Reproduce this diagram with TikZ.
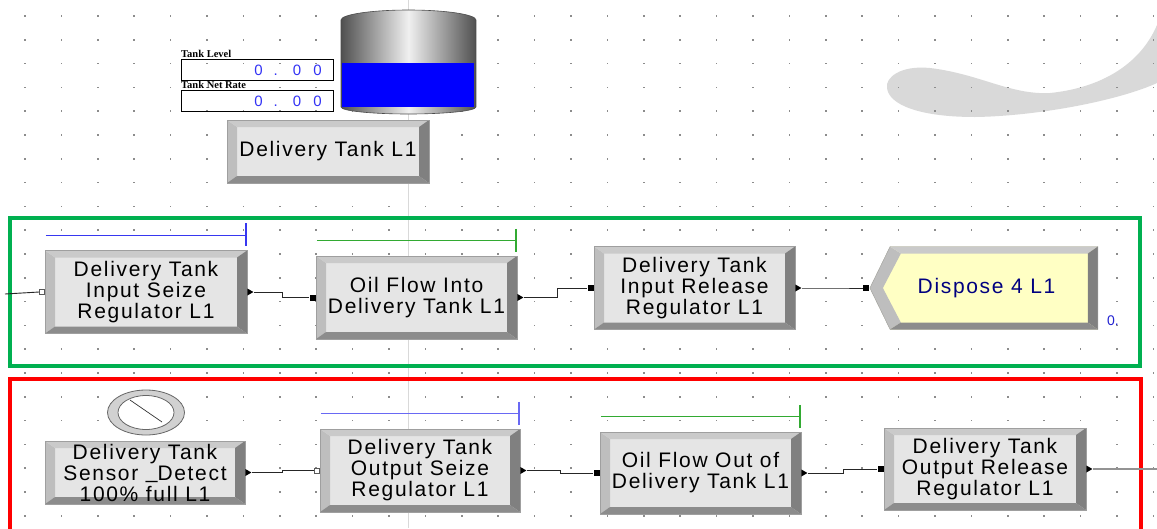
\documentclass[tikz,border=0pt]{standalone}
\usepackage{fontspec}
\usetikzlibrary{shapes.geometric,shapes.symbols}
\newfontfamily\modfont[LetterSpace=8]{Liberation Sans}
\newfontfamily\plainsans{Liberation Sans}
\newfontfamily\labelfont{Liberation Serif}

\definecolor{face}{RGB}{229,229,229}
\definecolor{bevlight}{RGB}{190,190,190}
\definecolor{bevtop}{RGB}{202,202,202}
\definecolor{bevdark}{RGB}{128,128,128}
\definecolor{bevbot}{RGB}{140,140,140}
\definecolor{disposefill}{RGB}{255,255,196}
\definecolor{navytext}{RGB}{0,0,128}
\definecolor{digitblue}{RGB}{50,50,245}
\definecolor{framegreen}{RGB}{0,176,80}
\definecolor{barblue}{RGB}{55,55,240}
\definecolor{bargreen}{RGB}{50,170,50}
\definecolor{griddot}{RGB}{140,140,140}
\definecolor{logo}{RGB}{217,217,217}
\definecolor{tankdark}{RGB}{80,80,80}
\definecolor{tanklight}{RGB}{240,240,240}

% bevelled edges of a module box
\newcommand\modbevels{%
  \coordinate (pp-nw) at (path picture bounding box.north west);
  \coordinate (pp-ne) at (path picture bounding box.north east);
  \coordinate (pp-sw) at (path picture bounding box.south west);
  \coordinate (pp-se) at (path picture bounding box.south east);
  \fill[bevlight] (pp-sw) -- (pp-nw) -- ([shift={(10pt,-7pt)}]pp-nw) -- ([shift={(10pt,7pt)}]pp-sw) -- cycle;
  \fill[bevtop] (pp-nw) -- (pp-ne) -- ([shift={(-10pt,-7pt)}]pp-ne) -- ([shift={(10pt,-7pt)}]pp-nw) -- cycle;
  \fill[bevdark] (pp-ne) -- (pp-se) -- ([shift={(-10pt,7pt)}]pp-se) -- ([shift={(-10pt,-7pt)}]pp-ne) -- cycle;
  \fill[bevbot] (pp-sw) -- (pp-se) -- ([shift={(-10pt,7pt)}]pp-se) -- ([shift={(10pt,7pt)}]pp-sw) -- cycle;
}
% same for the pointed dispose block
\newcommand\dispbevels{%
  \coordinate (pp-nw) at (path picture bounding box.north west);
  \coordinate (pp-ne) at (path picture bounding box.north east);
  \coordinate (pp-sw) at (path picture bounding box.south west);
  \coordinate (pp-se) at (path picture bounding box.south east);
  \coordinate (pp-w) at (path picture bounding box.west);
  \fill[bevlight] (pp-w) -- ([shift={(20pt,0pt)}]pp-nw) -- ([shift={(31pt,-7pt)}]pp-nw) -- ([shift={(13pt,0pt)}]pp-w)
    -- ([shift={(31pt,7pt)}]pp-sw) -- ([shift={(20pt,0pt)}]pp-sw) -- cycle;
  \fill[bevtop] ([shift={(20pt,0pt)}]pp-nw) -- (pp-ne) -- ([shift={(-10pt,-7pt)}]pp-ne) -- ([shift={(31pt,-7pt)}]pp-nw) -- cycle;
  \fill[bevdark] (pp-ne) -- (pp-se) -- ([shift={(-10pt,7pt)}]pp-se) -- ([shift={(-10pt,-7pt)}]pp-ne) -- cycle;
  \fill[bevbot] ([shift={(20pt,0pt)}]pp-sw) -- (pp-se) -- ([shift={(-10pt,7pt)}]pp-se) -- ([shift={(31pt,7pt)}]pp-sw) -- cycle;
}
\newcommand\modsize{\modfont\fontsize{21}{21}\selectfont}

\tikzset{
    module/.style ={rectangle, draw=gray!75, fill=face, minimum width=202pt, minimum height=83pt,
        inner sep=0pt, align=center, font=\modsize, path picture={\modbevels}},
    dispose/.style ={signal, signal to=west, signal pointer angle=128, draw=gray!75, fill=disposefill,
        minimum width=228pt, minimum height=83pt, inner sep=0pt, font=\modsize, text=navytext,
        path picture={\dispbevels}},
    inmark/.style ={rectangle, fill=black, minimum size=6pt, inner sep=0pt, anchor=east},
    inopen/.style ={inmark, fill=white, draw=gray!70!black, line width=0.7pt, minimum size=5pt},
    outmark/.style ={isosceles triangle, isosceles triangle stretches, fill=black, minimum width=7pt,
        minimum height=6pt, inner sep=0pt, anchor=west},
    flow/.style ={line width=0.9pt, black!85},
    readout/.style ={draw=black, line width=1.2pt, minimum width=152pt, minimum height=21pt, inner sep=0pt,
        text width=128pt, align=right, text=digitblue, font=\plainsans\fontsize{15}{16}\selectfont},
    readlabel/.style ={inner sep=0pt, font=\labelfont\bfseries\fontsize{10.5}{12}\selectfont},
    frame/.style ={line width=4pt}}

\begin{document}
\begin{tikzpicture}[x=1pt, y=-1pt]
    \useasboundingbox (0,0) rectangle (1157,528);
    \clip (0,0) rectangle (1157,528);
    \fill[white] (0,0) rectangle (1157,528);
    % logo in the corner
    \fill[logo] (1157,25) .. controls (1140,65) and (1100,88) .. (1050,93)
        .. controls (1010,95) and (980,74) .. (930,68)
        .. controls (900,65) and (885,78) .. (887,88)
        .. controls (889,105) and (920,117) .. (975,117)
        .. controls (1040,116) and (1120,100) .. (1157,83) -- cycle;
    % snap grid
    \foreach \gx in {25,61.4,...,1157}
        \foreach \gy in {16,39.8,...,528}
            \fill[griddot] (\gx-0.8,\gy-0.8) rectangle ++(1.6,1.6);
    \draw[black!15, line width=1pt] (408,0) -- (408,528);
    % areas
    \draw[frame, framegreen] (10,218) rectangle (1140,366);
    \draw[frame, red] (10,379) rectangle (1141,540);
    % tank
    \shadedraw[left color=tankdark, right color=tankdark, middle color=tanklight, draw=black!70, line width=0.6pt]
        (341,20) -- (341,107) arc[start angle=180, end angle=360, x radius=67.5pt, y radius=7pt]
        -- (476,20) arc[start angle=0, end angle=180, x radius=67.5pt, y radius=10pt] -- cycle;
    \fill[blue] (342,63) rectangle (474,107);
    \node[readout, anchor=north west] (lvl) at (181,59) {0\hspace{11pt}.\hspace{15pt}0\hspace{12pt}0};
    \node[readout, anchor=north west] (rate) at (181,90) {0\hspace{11pt}.\hspace{15pt}0\hspace{12pt}0};
    \node[readlabel, anchor=base west] (lvl-l) at (181,57) {Tank Level};
    \node[readlabel, anchor=base west] (rate-l) at (181,88) {Tank Net Rate};
    \node[module, minimum height=63pt] (dt) at (328,151.5) {Delivery Tank L1};
    % filling the tank
    \node[module] (isr) at (146,292) {Delivery Tank\\Input Seize\\Regulator L1};
    \node[module, minimum width=201pt] (ofi) at (416.5,297.5) {Oil Flow Into\\Delivery Tank L1};
    \node[module, minimum width=201pt] (irr) at (694.5,288) {Delivery Tank\\Input Release\\Regulator L1};
    \node[dispose] (disp) at (994,288) {\hspace{-15pt}Dispose 4 L1};
    \node[text=digitblue!70!navytext, font=\plainsans\fontsize{14}{16}\selectfont] (cnt) at (1113,321) {0.};
    % emptying the tank
    \node[module, minimum width=200pt, minimum height=63pt] (sens) at (145,472.5)
        {Delivery Tank\\Sensor \raisebox{2pt}{\_}Detect\\100\% full L1};
    \node[module, minimum width=200pt] (osr) at (420,470.5) {Delivery Tank\\Output Seize\\Regulator L1};
    \node[module, minimum width=201pt, minimum height=82pt] (ofo) at (700.5,473) {Oil Flow Out of\\Delivery Tank L1};
    \node[module, minimum height=82pt] (orr) at (985,469) {Delivery Tank\\Output Release\\Regulator L1};
    % sensor symbol
    \filldraw[fill=black!18, draw=black!60, line width=0.8pt] (146,412.5) ellipse (38.5pt and 22.5pt);
    \filldraw[fill=white, draw=black!60, line width=0.8pt] (146,412.5) ellipse (28pt and 17pt);
    \draw[black!80, line width=0.7pt] (130,400) -- (162,422);
    % entry and exit points
    \coordinate (src) at (5,294);
    \node[inopen] (isr-in) at (isr.west) {};
    \node[outmark] (isr-out) at (isr.east) {};
    \node[inmark] (ofi-in) at (ofi.west) {};
    \node[outmark] (ofi-out) at (ofi.east) {};
    \node[inmark] (irr-in) at (irr.west) {};
    \node[outmark] (irr-out) at (irr.east) {};
    \node[inmark] (disp-in) at (disp.west) {};
    \node[outmark] (sens-out) at (sens.east) {};
    \node[inopen] (osr-in) at (osr.west) {};
    \node[outmark] (osr-out) at (osr.east) {};
    \node[inmark] (ofo-in) at (ofo.west) {};
    \node[outmark] (ofo-out) at (ofo.east) {};
    \node[inmark] (orr-in) at (orr.west) {};
    \node[outmark] (orr-out) at (orr.east) {};
    \coordinate (sink) at (1157,469);
    \draw[flow] (src) -- (isr-in.west);
    \draw[flow] (isr-out.east) -- ++(29,0) |- (ofi-in.west);
    \draw[flow] (ofi-out.east) -- ++(34,0) |- (irr-in.west);
    \draw[flow] (irr-out.east) -- ++(34,0) |- (disp-in.west);
    \draw[flow] (sens-out.east) -- ++(31,0) |- (osr-in.west);
    \draw[flow] (osr-out.east) -- ++(34,0) |- (ofo-in.west);
    \draw[flow] (ofo-out.east) -- ++(36,0) |- (orr-in.west);
    \draw[gray!85, line width=1.6pt] (orr-out.east) -- (sink);
    % resource bars
    \foreach \m/\c in {isr/barblue, ofi/bargreen, osr/barblue!75, ofo/bargreen} {
        \draw[\c, line width=1pt] ([shift={(1pt,15pt)}]\m.north west) -- ([shift={(-1pt,15pt)}]\m.north east);
        \draw[\c, line width=1.6pt] ([shift={(-1pt,27pt)}]\m.north east) -- ([shift={(-1pt,4pt)}]\m.north east);
    }
\end{tikzpicture}
\end{document}
